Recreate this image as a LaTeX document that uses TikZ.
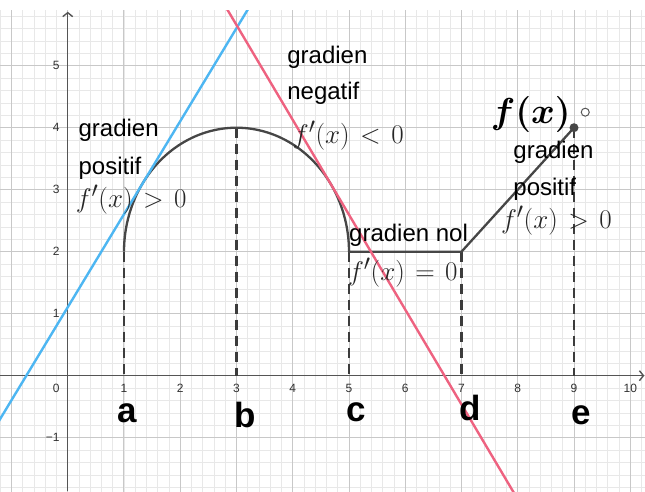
\documentclass[tikz,border=0pt]{standalone}
\usepackage[no-math]{fontspec}
\setmainfont{Liberation Sans}
\usetikzlibrary{arrows.meta}
\definecolor{gridmaj}{RGB}{200,200,200}
\definecolor{gridmin}{RGB}{232,232,232}
\definecolor{axisc}{RGB}{85,85,85}
\definecolor{curvec}{RGB}{70,70,70}
\definecolor{dashcol}{RGB}{60,60,60}
\definecolor{bluel}{RGB}{77,182,242}
\definecolor{pinkl}{RGB}{238,98,128}
\definecolor{numc}{RGB}{50,50,50}
\newcommand{\fxtext}{\scalebox{1.45}{\boldmath$f(x)$}}
\newcommand{\rel}[1]{\mkern2mu#1\mkern2mu}
\newcommand{\mth}[1]{\scalebox{1.085}{$#1$}}
\begin{document}
\begin{tikzpicture}[x=56.25pt,y=62pt,
  minorline/.style={gridmin,line width=0.7pt},
  majorline/.style={gridmaj,line width=1pt},
  axisline/.style={axisc,line width=1.4pt,-{Straight Barb[length=4pt,width=10pt]}},
  curveline/.style={curvec,line width=2.3pt,line join=round},
  dropline/.style={dashcol,line width=2.3pt,dash pattern=on 10pt off 6pt},
  tangentline/.style={line width=2.4pt},
  numlab/.style={font=\fontsize{12}{14}\selectfont,text=numc,inner sep=0pt},
  txt/.style={font=\fontsize{24}{28}\selectfont,anchor=base west,inner sep=0pt,text=black},
  mtxt/.style={font=\fontsize{24.88}{30}\selectfont,anchor=base west,inner sep=0pt,text=black!85},
  fxlab/.style={font=\fontsize{24.88}{30}\selectfont,anchor=base west,inner sep=0pt,text=black},
  ptlab/.style={font=\fontsize{35}{40}\selectfont\bfseries,anchor=base,inner sep=0pt,text=black}]
\useasboundingbox (-1.2044,-1.8597) rectangle (10.2622,6.0597);
\fill[white] (-1.2044,-1.8597) rectangle (10.2622,6.0597);
\begin{scope}
\clip (-1.2044,-1.8597) rectangle (10.2622,5.898);
% minor grid
\foreach \i in {-6,...,52} \draw[minorline] ({\i/5},-1.9) -- ({\i/5},5.95);
\foreach \j in {-10,...,30} \draw[minorline] (-1.25,{\j/5}) -- (10.3,{\j/5});
% major grid
\foreach \i in {-1,...,10} \draw[majorline] (\i,-1.9) -- (\i,5.95);
\foreach \j in {-1,...,5} \draw[majorline] (-1.25,\j) -- (10.3,\j);
\end{scope}
% axes
\coordinate (xl) at (-1.2044,0);
\coordinate (xr) at (10.25,0);
\coordinate (yb) at (0,-1.8597);
\coordinate (yt) at (0,5.87);
\draw[axisline] (xl) -- (xr);
\draw[axisline] (yb) -- (yt);
% axis numbers
\foreach \i in {1,...,10} \node[numlab] (nx\i) at (\i,-0.205) {\i};
\foreach \j in {1,...,5} \node[numlab,anchor=east] (ny\j) at (-0.14,\j) {\j};
\node[numlab,anchor=east] (ny0) at (-0.14,-0.205) {0};
\node[numlab,anchor=east] (nym) at (-0.14,-1) {\textminus1};
% key points
\coordinate (A) at (1,2);   \coordinate (A0) at (1,0);
\coordinate (B) at (3,4);   \coordinate (B0) at (3,0);
\coordinate (C) at (5,2);   \coordinate (C0) at (5,0);
\coordinate (D) at (7,2);   \coordinate (D0) at (7,0);
\coordinate (E) at (9,4);   \coordinate (E0) at (9,0);
% dashed drop lines
\draw[dropline] (B) -- (B0);
\draw[dropline] (A) -- (A0);
\draw[dropline] (C) -- (C0);
\draw[dropline] (D) -- (D0);
\draw[dropline] (E) -- (E0);
% curve
\draw[curveline] plot[domain=180:0,samples=120] ({3+2*cos(\x)},{2+2*sin(\x)}) -- (D) -- (E);
% tangents
\begin{scope}
\clip (-1.2044,-1.8597) rectangle (10.2622,5.898);
\coordinate (T1a) at (-1.5,{1.5*(-1.5)+1.105});
\coordinate (T1b) at (3.6,{1.5*3.6+1.105});
\draw[tangentline,bluel] (T1a) -- (T1b);
\coordinate (T2a) at (2.6,{3.095-1.53*(2.6-4.674)});
\coordinate (T2b) at (8.2,{3.095-1.53*(8.2-4.674)});
\draw[tangentline,pinkl] (T2a) -- (T2b);
\end{scope}
% end point and open circle
\fill[curvec] (E) circle (4.5pt);
\coordinate (O) at (9.2,4.25);
\draw[axisc,line width=1pt,fill=white] (O) circle (4pt);
% texts
\node[txt] (g1) at (0.19,3.85) {gradien};
\node[txt] (p1) at (0.19,3.25) {positif};
\node[mtxt] (m1) at (0.14,2.72) {\mth{f'(x)\rel{>}0}};
\node[txt] (g2) at (3.9,5.03) {gradien};
\node[txt] (n2) at (3.9,4.45) {negatif};
\node[mtxt] (m2) at (4.0,3.75) {\mth{f'(x)\rel{<}0}};
\node[txt] (g3) at (5.0,2.16) {gradien nol};
\node[mtxt] (m3) at (4.98,1.54) {\mth{f'(x)\rel{=}0}};
\node[fxlab] (fx) at (7.52,4.07) {\fxtext};
\node[txt] (g4) at (7.92,3.51) {gradien};
\node[txt] (p4) at (7.92,2.91) {positif};
\node[mtxt] (m4) at (7.7,2.38) {\mth{f'(x)\rel{>}0}};
% point labels
\node[ptlab] (la) at (1.05,-0.75) {a};
\node[ptlab] (lb) at (3.15,-0.83) {b};
\node[ptlab] (lc) at (5.12,-0.74) {c};
\node[ptlab] (ld) at (7.16,-0.73) {d};
\node[ptlab] (le) at (9.12,-0.78) {e};
\end{tikzpicture}
\end{document}
